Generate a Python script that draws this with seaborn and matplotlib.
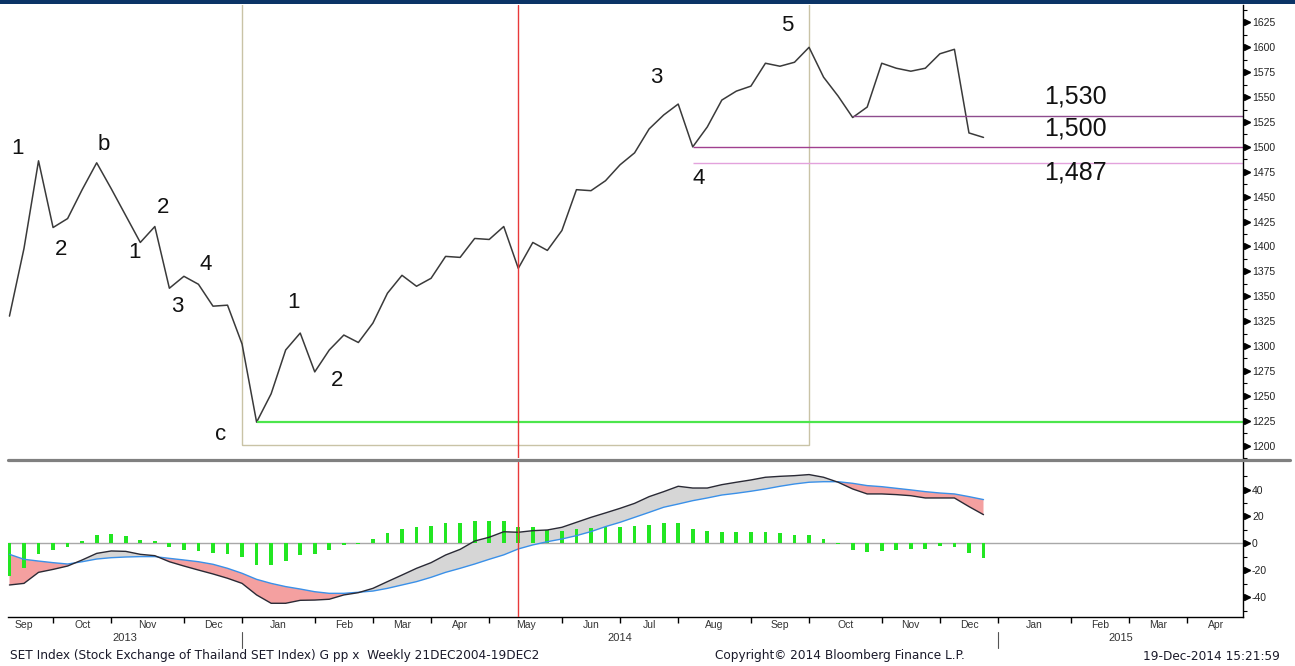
import numpy as np
import pandas as pd
import matplotlib
matplotlib.use("Agg")
import matplotlib.pyplot as plt
import matplotlib.transforms as mtransforms
from matplotlib.lines import Line2D
from matplotlib.patches import Rectangle
import seaborn as sns

# Figure size in pixels (dpi 100)
W, H = 1295, 666

# Weekly SET index closes, 06SEP2013 .. 19DEC2014
PRICE = [1330, 1398, 1486, 1419, 1428, 1457, 1484, 1458, 1431, 1404,
         1420, 1358, 1370, 1362, 1340, 1341, 1302, 1223.5, 1252, 1296,
         1313, 1274, 1296, 1311, 1303.5, 1323, 1353, 1371, 1360, 1368,
         1390, 1389, 1408, 1407, 1420, 1378, 1404, 1396, 1416, 1457,
         1456, 1466, 1482, 1494, 1518, 1532, 1543, 1500, 1520, 1547,
         1556, 1561, 1584, 1581, 1585, 1600, 1570, 1551, 1529.5, 1540,
         1584, 1579, 1576, 1579, 1593.5, 1598, 1514, 1509.5]

# MACD panel
MACD = [-31, -29.8, -21.6, -19.4, -16.9, -12.4, -7.5, -5.7, -6, -8.2,
        -9.2, -13.7, -16.9, -19.9, -22.8, -26, -29.8, -38.4, -44.6, -44.6,
        -42.4, -42.2, -41.6, -38.4, -36.7, -33.5, -28.5, -23.6, -18.6, -14.4,
        -8.7, -4.5, 1.7, 4.5, 8.6, 8.2, 9.4, 9.9, 11.9, 15.6,
        19.3, 22.6, 26, 29.7, 34.7, 38.4, 42.4, 41.1, 41.1, 43.6,
        45.4, 47.1, 49.1, 49.8, 50.3, 51.1, 49.1, 45.4, 40.4, 36.7,
        36.7, 36.2, 35.4, 33.7, 33.7, 33.7, 27.3, 21.3]
SIGNAL = [-8.2, -11.9, -13.2, -14.4, -15.4, -13.7, -11.7, -10.7, -10.2, -9.9,
          -9.9, -11.2, -12.4, -13.7, -15.6, -18.6, -22.3, -26.8, -29.8, -32.2,
          -34, -36, -37.2, -37.2, -36.4, -35.5, -33.5, -31, -28.5, -25.3,
          -21.6, -18.6, -15.4, -11.9, -8.6, -4.2, -1.2, 1.2, 3.2, 5.7,
          8.7, 12.4, 15.6, 19.3, 23, 26.8, 29.2, 31.7, 33.7, 35.9,
          37.2, 38.7, 40.4, 42.4, 44.1, 45.4, 45.8, 45.8, 44.6, 42.9,
          42.1, 40.9, 39.7, 38.4, 37.4, 36.7, 34.7, 32.5]
HIST = [-24, -18.3, -7.9, -5, -2.5, 1.5, 6.4, 7.2, 5.4, 2.5,
        1.5, -2.5, -5, -5.4, -7.4, -7.9, -9.9, -15.9, -15.9, -12.9,
        -8.4, -7.9, -5, -1.5, -0.5, 3.2, 7.9, 10.4, 12.4, 13.1,
        15.1, 15.4, 16.4, 16.4, 16.4, 11.9, 11.9, 9.9, 8.9, 10.7,
        11.4, 11.9, 12.4, 13.1, 13.6, 14.9, 14.9, 10.4, 8.9, 8.4,
        8.4, 8.2, 8.4, 7.9, 6.4, 6.4, 3.2, -0.3, -5, -6.7,
        -5.4, -4.7, -4.5, -4.5, -2, -3, -7.4, -10.9]

WEEKS = np.arange(len(PRICE))

# calendar of Fridays, one week before the first bar out to Apr 2015
FIRST_FRIDAY = "2013-08-30"
N_CAL = 87
X_LIM = (-0.1, 84.85)

# annotations
WAVE_LABELS = [(0.54, 1498.6, "1"), (3.57, 1397.4, "2"), (6.52, 1502.6, "b"),
               (8.59, 1394.4, "1"), (10.58, 1439.1, "2"), (11.55, 1339.9, "3"),
               (13.48, 1381.5, "4"), (14.51, 1210.9, "c"), (19.53, 1343.8, "1"),
               (22.56, 1265.5, "2"), (44.52, 1570.0, "3"), (47.41, 1467.9, "4"),
               (53.53, 1621.6, "5")]
LEVEL_VALUES = [1531, 1499.5, 1483.5]
LEVEL_START = [58, 47, 47]
LEVEL_COLORS = ["#8E4C8E", "#A0408F", "#E3A2DC"]
LEVEL_TEXT = ["1,530", "1,500", "1,487"]
LEVEL_TEXT_POS = [(73.35, 1550.2), (73.35, 1518.5), (73.35, 1473.8)]
MARK_WEEK = 35
BOX = (16, 55, 1201)  # start week, end week, bottom value

sns.set_theme(style="white")
plt.rcParams["font.family"] = ["Liberation Sans", "DejaVu Sans"]

fig = plt.figure(figsize=(W / 100, H / 100), dpi=100)
fig.patch.set_facecolor("white")


def px_box(left, top, right, bottom):
    return [left / W, 1 - bottom / H, (right - left) / W, (bottom - top) / H]


ax1 = fig.add_axes(px_box(8, 5, 1243, 458))
ax2 = fig.add_axes(px_box(8, 462, 1243, 617))

# ---- price panel
sns.lineplot(x=WEEKS, y=PRICE, ax=ax1, color="#3A3A3A", linewidth=1.1,
             estimator=None, sort=False)
ax1.set_xlim(*X_LIM)
ax1.set_ylim(1193, 1642.5)

low_i = int(np.argmin(PRICE))
ax1.hlines(PRICE[low_i], low_i, X_LIM[1], color="#4CE64C", linewidth=1.6)
for v, s, c in zip(LEVEL_VALUES, LEVEL_START, LEVEL_COLORS):
    ax1.hlines(v, s, X_LIM[1], color=c, linewidth=1.0)
ax1.add_patch(Rectangle((BOX[0], BOX[2]), BOX[1] - BOX[0], 600, fill=False,
                        edgecolor="#C9C3A6", linewidth=1.0))
ax1.axvline(MARK_WEEK, color="#E8393A", linewidth=1.0)

for x, y, t in WAVE_LABELS:
    ax1.text(x, y, t, fontsize=16, ha="center", va="center", color="#111111")
for (x, y), t in zip(LEVEL_TEXT_POS, LEVEL_TEXT):
    ax1.text(x, y, t, fontsize=18, ha="center", va="center", color="#111111")

# ---- MACD panel
ax2.axhline(0, color="#A8A8A8", linewidth=1.0, zorder=1)
m = np.array(MACD)
s = np.array(SIGNAL)
ax2.fill_between(WEEKS, m, s, where=m >= s, interpolate=True,
                 color="#D6D6D6", linewidth=0, zorder=2)
ax2.fill_between(WEEKS, m, s, where=m < s, interpolate=True,
                 color="#F4A0A0", linewidth=0, zorder=2)
ax2.bar(WEEKS, HIST, width=0.26, color="#22E622", linewidth=0, zorder=3)
sns.lineplot(x=WEEKS, y=SIGNAL, ax=ax2, color="#3A90E8", linewidth=1.0,
             estimator=None, sort=False, zorder=4)
sns.lineplot(x=WEEKS, y=MACD, ax=ax2, color="#2A2A35", linewidth=1.0,
             estimator=None, sort=False, zorder=5)
ax2.axvline(MARK_WEEK, color="#E8393A", linewidth=1.0, zorder=6)
ax2.set_xlim(*X_LIM)
ax2.set_ylim(-54.8, 60.45)

# ---- axes styling
for ax, major, minor in [(ax1, np.arange(1200, 1626, 25), np.arange(1187.5, 1640, 12.5)),
                         (ax2, np.arange(-40, 41, 20), np.arange(-50, 51, 10))]:
    for side in ["left", "top"]:
        ax.spines[side].set_visible(False)
    ax.spines["right"].set_color("black")
    ax.spines["right"].set_linewidth(1.0)
    ax.yaxis.tick_right()
    ax.set_yticks(major)
    ax.set_yticks(minor, minor=True)
    ax.set_yticklabels([str(int(v)) for v in major])
    ax.tick_params(axis="y", which="major", length=5, width=1.0, pad=1.5,
                   labelsize=7.5, colors="black", labelcolor="#222222")
    ax.tick_params(axis="y", which="minor", length=3, width=0.8, colors="black")
    ax.set_xlabel("")
    ax.set_ylabel("")
    # Bloomberg-style arrow heads on major ticks
    off = mtransforms.ScaledTranslation(3.5 / 100, 0, fig.dpi_scale_trans)
    tr = mtransforms.blended_transform_factory(ax.transAxes, ax.transData) + off
    ax.plot(np.ones(len(major)), major, linestyle="none", marker=">",
            markersize=4.5, color="black", transform=tr, clip_on=False)

ax1.spines["bottom"].set_visible(False)
ax1.set_xticks([])
ax2.spines["bottom"].set_color("black")
ax2.spines["bottom"].set_linewidth(1.0)

# month ticks: last weekly bar of each month
cal = pd.DataFrame({"date": pd.date_range(FIRST_FRIDAY, periods=N_CAL, freq="W-FRI")})
cal["week"] = np.arange(N_CAL) - 1
cal["month"] = cal["date"].dt.to_period("M")
month_end = cal.groupby("month")["week"].max()
ticks = month_end.values
ax2.set_xticks([t for t in ticks if X_LIM[0] <= t <= X_LIM[1]])
ax2.set_xticklabels([])
ax2.tick_params(axis="x", which="major", bottom=True, length=4, width=1.0,
                direction="out", colors="black")

trx = mtransforms.blended_transform_factory(ax2.transData, fig.transFigure)
for k in range(1, len(ticks)):
    mid = (ticks[k - 1] + ticks[k]) / 2
    name = month_end.index[k].strftime("%b")
    ax2.text(mid, 1 - 625 / H, name, fontsize=7.5, ha="center", va="center",
             color="#333333", transform=trx, clip_on=False)

dec_ticks = [t for p, t in month_end.items() if p.month == 12 and t <= X_LIM[1]]
edges = [X_LIM[0]] + dec_ticks + [X_LIM[1]]
years = [2013, 2014, 2015]
for k, yr in enumerate(years):
    ax2.text((edges[k] + edges[k + 1]) / 2, 1 - 638 / H, str(yr), fontsize=8,
             ha="center", va="center", color="#333333", transform=trx)
for t in dec_ticks:
    fig.add_artist(Line2D([t, t], [1 - 632 / H, 1 - 648 / H], transform=trx,
                          color="#555555", linewidth=0.8))

# frame pieces
fig.add_artist(Rectangle((0, 1 - 4 / H), 1, 4 / H, transform=fig.transFigure,
                         color="#0B3466", linewidth=0))
fig.add_artist(Line2D([8 / W, 1290 / W], [1 - 460 / H] * 2, transform=fig.transFigure,
                      color="#808080", linewidth=2.3))

fig.text(10 / W, 1 - 656 / H,
         "SET Index (Stock Exchange of Thailand SET Index) G pp x  Weekly 21DEC2004-19DEC2",
         fontsize=8.7, family="DejaVu Sans", va="center", ha="left", color="#1A1A2A")
fig.text(715 / W, 1 - 656 / H, "Copyright\u00a9 2014 Bloomberg Finance L.P.",
         fontsize=8.7, family="DejaVu Sans", va="center", ha="left", color="#1A1A2A")
fig.text(1280 / W, 1 - 656 / H, "19-Dec-2014 15:21:59",
         fontsize=8.7, family="DejaVu Sans", va="center", ha="right", color="#1A1A2A")

fig.savefig("out.png", dpi=100)
